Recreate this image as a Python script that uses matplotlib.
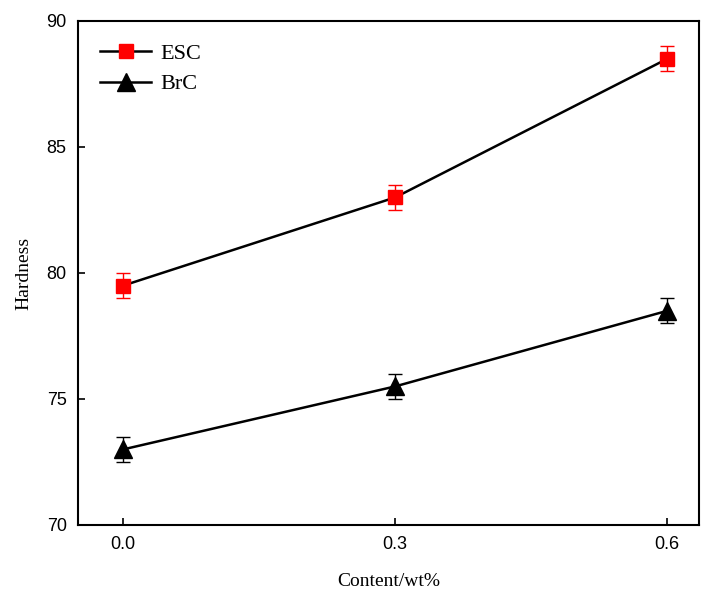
import matplotlib
matplotlib.use("Agg")
import matplotlib.pyplot as plt
from matplotlib.lines import Line2D

content = [0.0, 0.3, 0.6]
esc = [79.5, 83.0, 88.5]
esc_err = [0.5, 0.5, 0.5]
brc = [73.0, 75.5, 78.5]
brc_err = [0.5, 0.5, 0.5]

fig = plt.figure(figsize=(7.14, 6), dpi=100)
ax = fig.add_axes([0.109, 0.125, 0.870, 0.840])

ax.errorbar(content, esc, yerr=esc_err, color="black", lw=1.8, marker="s",
            ms=10, mfc="red", mec="red", ecolor="red", elinewidth=1, capsize=5)
ax.errorbar(content, brc, yerr=brc_err, color="black", lw=1.8, marker="^",
            ms=13, mfc="black", mec="black", ecolor="black", elinewidth=1, capsize=5)

ax.set_xlim(-0.05, 0.635)
ax.set_ylim(70, 90)
ax.set_xticks([0.0, 0.3, 0.6])
ax.set_xticklabels(["0.0", "0.3", "0.6"])
ax.set_yticks([70, 75, 80, 85, 90])

for lab in ax.get_xticklabels() + ax.get_yticklabels():
    lab.set_fontfamily("Liberation Sans")
    lab.set_fontsize(13)

ax.tick_params(direction="in", length=5, width=1.2, top=False, right=False, pad=8)
for s in ax.spines.values():
    s.set_linewidth(1.5)

ax.set_xlabel("Content/wt%", family="Liberation Serif", fontsize=14, labelpad=14)
ax.set_ylabel("Hardness", family="Liberation Serif", fontsize=14, labelpad=10)

handles = [
    Line2D([], [], color="black", lw=1.8, marker="s", ms=10, mfc="red", mec="red"),
    Line2D([], [], color="black", lw=1.8, marker="^", ms=13, mfc="black", mec="black"),
]
ax.legend(handles, ["ESC", "BrC"], loc="upper left", frameon=False,
          prop={"family": "Liberation Serif", "size": 16},
          handlelength=2.3, handletextpad=0.4, borderaxespad=0.6, labelspacing=0.45)

fig.savefig("out.png", dpi=100)
